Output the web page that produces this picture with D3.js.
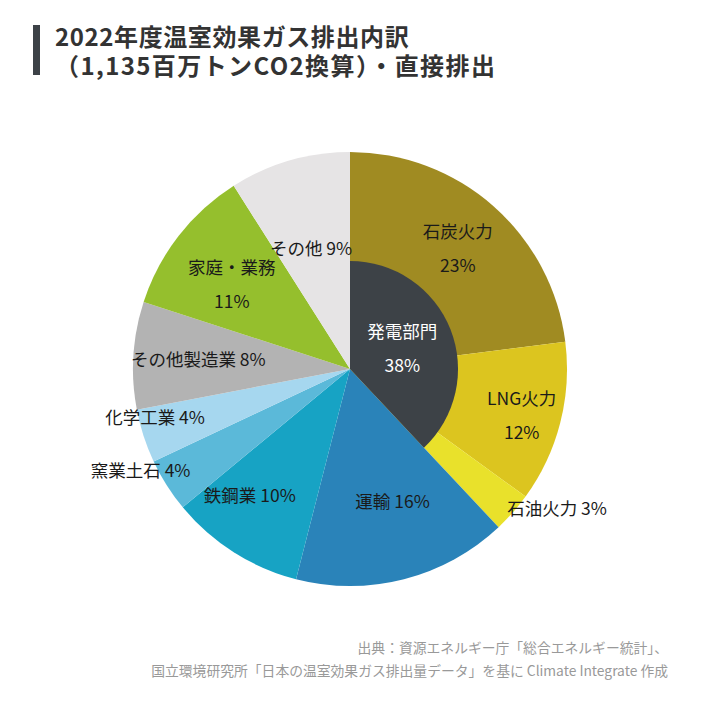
<!DOCTYPE html>
<html>
<head>
<meta charset="utf-8">
<script src="https://cdn.jsdelivr.net/npm/d3@7"></script>
<style>
  body { margin: 0; background: #fff; }
  svg text { font-family: "Noto Sans CJK JP", "Noto Sans", sans-serif; }
</style>
</head>
<body>
<div id="chart"></div>
<script>
// sectors, clockwise from 12 o'clock
var names = ["石炭火力", "LNG火力", "石油火力", "運輸", "鉄鋼業", "窯業土石", "化学工業", "その他製造業", "家庭・業務", "その他"];
var shares = [23, 12, 3, 16, 10, 4, 4, 8, 11, 9];
var colors = ["#a08b22", "#dcc51f", "#e9e12b", "#2a83b9", "#17a3c4", "#5bb9d9", "#a6d7ef", "#b3b3b3", "#95bf2d", "#e6e4e5"];
var twoLine = [true, true, false, false, false, false, false, false, true, false];

// label placement: direction (degrees clockwise from top) and distance from centre
var labelDeg = [42, 105.3, 124.1, 162.3, 218.2, 244, 255.9, 273.4, 305.4, 342];
var labelDist = [161, 178, 250, 140, 162, 233, 201, 152, 145, 126];

var powerName = "発電部門";
var powerShare = 38;

var title = ["2022年度温室効果ガス排出内訳", "（1,135百万トンCO2換算）・直接排出"];
var source = ["出典：資源エネルギー庁「総合エネルギー統計」、",
              "国立環境研究所「日本の温室効果ガス排出量データ」を基に Climate Integrate 作成"];

var width = 702, height = 702;
var cx = 350, cy = 369, R = 217, r0 = 108;
var fs = 17.5;

var svg = d3.select("#chart").append("svg")
    .attr("width", width)
    .attr("height", height);

// title
svg.append("rect")
    .attr("x", 33).attr("y", 25)
    .attr("width", 7).attr("height", 50)
    .attr("fill", "#3d4247");

svg.append("g").selectAll("text")
    .data(title)
    .enter().append("text")
    .attr("x", 55)
    .attr("y", function(d, i) { return 46 + i * 29; })
    .attr("font-size", 24)
    .attr("font-weight", "bold")
    .attr("letter-spacing", function(d, i) { return i ? 1.4 : 0.6; })
    .attr("fill", "#333")
    .text(function(d) { return d; });

var data = names.map(function(n, i) {
  return { name: n, value: shares[i], color: colors[i], two: twoLine[i], deg: labelDeg[i], dist: labelDist[i] };
});

var pie = d3.pie()
    .sort(null)
    .value(function(d) { return d.value; });

var arcs = pie(data);

var arc = d3.arc().innerRadius(0).outerRadius(R);

var g = svg.append("g")
    .attr("transform", "translate(" + cx + "," + cy + ")");

g.selectAll("path.slice")
    .data(arcs)
    .enter().append("path")
    .attr("class", "slice")
    .attr("d", arc)
    .attr("fill", function(d) { return d.data.color; });

// power sector overlay
var angle = d3.scaleLinear().domain([0, 100]).range([0, 2 * Math.PI]);
g.append("path")
    .attr("d", d3.arc().innerRadius(0).outerRadius(r0)({ startAngle: 0, endAngle: angle(powerShare) }))
    .attr("fill", "#3d4247");

function polar(deg, rr) {
  var a = deg * Math.PI / 180;
  return [Math.sin(a) * rr, -Math.cos(a) * rr];
}

var labels = g.selectAll("g.label")
    .data(arcs)
    .enter().append("g")
    .attr("class", "label")
    .attr("transform", function(d) {
      var p = polar(d.data.deg, d.data.dist);
      return "translate(" + p[0] + "," + p[1] + ")";
    });

labels.each(function(d) {
  var sel = d3.select(this);
  if (d.data.two) {
    sel.append("text").attr("text-anchor", "middle").attr("y", -11)
        .attr("font-size", fs).attr("fill", "#1a1a1a").text(d.data.name);
    sel.append("text").attr("text-anchor", "middle").attr("y", 23)
        .attr("font-size", fs).attr("fill", "#1a1a1a").text(d.data.value + "%");
  } else {
    sel.append("text").attr("text-anchor", "middle").attr("y", 6)
        .attr("font-size", fs).attr("fill", "#1a1a1a").text(d.data.name + " " + d.data.value + "%");
  }
});

var pp = polar(69, 56);
var pg = g.append("g").attr("transform", "translate(" + pp[0] + "," + pp[1] + ")");
pg.append("text").attr("text-anchor", "middle").attr("y", -11)
    .attr("font-size", fs).attr("fill", "#fff").text(powerName);
pg.append("text").attr("text-anchor", "middle").attr("y", 23)
    .attr("font-size", fs).attr("fill", "#fff").text(powerShare + "%");

// source
svg.append("g").selectAll("text")
    .data(source)
    .enter().append("text")
    .attr("x", 668)
    .attr("y", function(d, i) { return 653 + i * 23; })
    .attr("text-anchor", "end")
    .attr("font-size", 13.8)
    .attr("fill", "#999")
    .text(function(d) { return d; });
</script>
</body>
</html>
